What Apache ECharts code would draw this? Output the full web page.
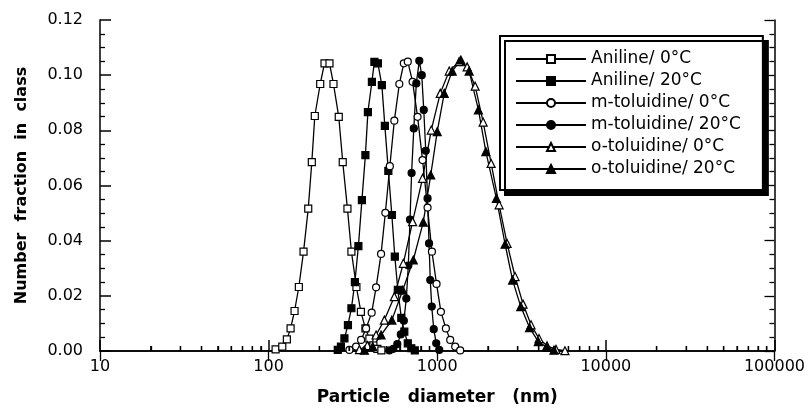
<!DOCTYPE html>
<html><head><meta charset="utf-8">
<script src="https://cdn.jsdelivr.net/npm/echarts@6/dist/echarts.min.js"></script>
<style>html,body{margin:0;padding:0;background:#fff}#c{width:808px;height:414px}</style>
</head><body><div id="c"></div>
<script>
const seriesNames = ['Aniline/ 0°C','Aniline/ 20°C','m-toluidine/ 0°C','m-toluidine/ 20°C','o-toluidine/ 0°C','o-toluidine/ 20°C'];

const aniline0X = [110.0,120.5,128.3,135.0,142.5,151.1,161.1,171.8,180.4,187.9,202.3,214.5,229.6,242.5,260.6,275.2,293.4,309.8,331.6,352.6,375.0,396.0,418.2,441.6,466.3];
const aniline0Y = [0.0006,0.0016,0.0042,0.0082,0.0145,0.0232,0.036,0.0516,0.0685,0.0852,0.0968,0.1043,0.1043,0.0968,0.0849,0.0685,0.0516,0.036,0.0232,0.0142,0.0082,0.0045,0.002,0.0008,0.0002];

const aniline20X = [257.1,268.5,281.6,295.4,309.8,324.9,340.8,357.5,375.0,388.0,409.8,424.0,444.6,469.5,489.1,513.0,538.1,560.4,583.8,612.4,637.9,669.0,701.8,736.1];
const aniline20Y = [0.0004,0.0016,0.0046,0.0094,0.0155,0.025,0.038,0.0547,0.071,0.0866,0.0976,0.1048,0.1043,0.0964,0.0816,0.0653,0.0493,0.0342,0.0222,0.012,0.007,0.0028,0.001,0.0002];

const mTol0X = [301.5,330.3,353.6,378.5,408.5,433.9,464.5,492.4,523.5,556.7,595.9,633.6,669.0,714.3,764.6,818.5,876.2,930.2,990.6,1051.7,1125.4,1194.0,1278.1,1368.1];
const mTol0Y = [0.0004,0.0016,0.004,0.0082,0.0139,0.0231,0.0352,0.0501,0.067,0.0835,0.0968,0.1043,0.1049,0.0976,0.0849,0.0692,0.052,0.036,0.0243,0.0142,0.0082,0.004,0.0016,0.0002];

const mTol20X = [520.0,549.1,579.8,608.1,633.6,655.6,673.7,689.6,704.7,726.2,751.4,782.8,809.6,832.0,855.0,876.2,894.3,909.3,928.0,953.6,986.5,1027.6];
const mTol20Y = [0.0002,0.0008,0.0025,0.006,0.011,0.019,0.031,0.0476,0.0645,0.0807,0.097,0.1052,0.1,0.0874,0.0726,0.0553,0.039,0.0257,0.0161,0.0079,0.0028,0.0004];

const oTol0X = [345.5,385.2,433.9,485.8,556.7,629.3,714.3,818.5,921.5,1041.8,1177.8,1349.6,1504.5,1678.6,1872.3,2087.7,2328.1,2595.9,2894.3,3228.6,3599.8,4014.2,4476.3,5060.0,5721.9];
const oTol0Y = [0.0005,0.002,0.0058,0.0112,0.0197,0.0318,0.0469,0.0626,0.0801,0.0934,0.1015,0.1049,0.103,0.096,0.083,0.068,0.053,0.039,0.027,0.017,0.0095,0.0045,0.0019,0.0006,0.0001];

const oTol20X = [369.8,414.4,464.5,538.1,625.1,721.1,826.4,915.2,1000.0,1100.0,1227.0,1380.9,1546.3,1755.2,1942.0,2243.5,2526.2,2797.4,3129.1,3526.5,3975.4,4476.3,4923.7];
const oTol20Y = [0.0003,0.0016,0.0058,0.0112,0.0221,0.033,0.0467,0.0638,0.0795,0.0934,0.1015,0.1055,0.1015,0.0874,0.0723,0.0553,0.0387,0.0257,0.0161,0.0085,0.0034,0.0013,0.0003];

const xMinorTicks = [20,30,40,50,60,70,80,90,200,300,400,500,600,700,800,900,2000,3000,4000,5000,6000,7000,8000,9000,20000,30000,40000,50000,60000,70000,80000,90000];
const minorTickHeight = 0.0018;

const FONT = 'DejaVu Sans';
const zip = (xs, ys) => xs.map((x, i) => [x, ys[i]]);

const markerDefs = [
  {sym: 'rect', size: 7, fill: '#fff'},
  {sym: 'rect', size: 7, fill: '#000'},
  {sym: 'circle', size: 7, fill: '#fff'},
  {sym: 'circle', size: 7, fill: '#000'},
  {sym: 'triangle', size: 8, fill: '#fff'},
  {sym: 'triangle', size: 8, fill: '#000'}
];
const dataSets = [
  zip(aniline0X, aniline0Y), zip(aniline20X, aniline20Y),
  zip(mTol0X, mTol0Y), zip(mTol20X, mTol20Y),
  zip(oTol0X, oTol0Y), zip(oTol20X, oTol20Y)
];

const minorTickLines = xMinorTicks.map(v => [{coord: [v, 0]}, {coord: [v, minorTickHeight]}]);

const lineSeries = seriesNames.map((name, i) => {
  const s = {
    name: name,
    type: 'line',
    data: dataSets[i],
    symbol: markerDefs[i].sym,
    symbolSize: markerDefs[i].size,
    showAllSymbol: true,
    lineStyle: {color: '#000', width: 1.3},
    itemStyle: {color: markerDefs[i].fill, borderColor: '#000', borderWidth: 1.2},
    emphasis: {disabled: true},
    animation: false,
    z: 3
  };
  if (i === 0) {
    s.markLine = {
      symbol: ['none', 'none'],
      label: {show: false},
      lineStyle: {color: '#000', width: 1.3, type: 'solid'},
      animation: false,
      data: minorTickLines
    };
  }
  return s;
});

const tickData = [];
xMinorTicks.forEach(v => { tickData.push([v, 0], [v, minorTickHeight], '-'); });

const minorTickSeries = {
  name: 'xMinorTicks',
  type: 'line',
  data: tickData,
  symbol: 'none',
  connectNulls: false,
  lineStyle: {color: '#000', width: 1.3},
  itemStyle: {color: '#000'},
  animation: false,
  z: 4
};

const chart = echarts.init(document.getElementById('c'), null, {renderer: 'canvas'});
chart.setOption({
  backgroundColor: '#fff',
  animation: false,
  grid: {left: 100, right: 32, top: 20, bottom: 63, containLabel: false},
  legend: {
    data: seriesNames,
    orient: 'vertical',
    left: 500, top: 36,
    itemWidth: 70, itemHeight: 10,
    itemGap: 4,
    padding: [14, 22, 12, 15],
    borderColor: '#000', borderWidth: 2,
    backgroundColor: '#fff',
    shadowColor: '#000', shadowBlur: 0, shadowOffsetX: 5, shadowOffsetY: 5,
    textStyle: {fontFamily: FONT, fontSize: 17, color: '#000', lineHeight: 18},
    selectedMode: false
  },
  xAxis: [{
    type: 'log', logBase: 10, min: 10, max: 100000,
    position: 'bottom',
    name: 'Particle   diameter   (nm)',
    nameLocation: 'middle', nameGap: 38,
    nameTextStyle: {fontFamily: FONT, fontSize: 17, fontWeight: 'bold', color: '#000'},
    axisLine: {lineStyle: {color: '#000', width: 1.5}},
    axisTick: {inside: true, length: 11, lineStyle: {color: '#000', width: 1.5}},
    axisLabel: {fontFamily: FONT, fontSize: 16, color: '#000', margin: 8,
      formatter: v => String(Math.round(v))},
    splitLine: {show: false},
    minorTick: {show: false}
  }, {
    type: 'log', logBase: 10, min: 10, max: 100000,
    position: 'top',
    axisLine: {lineStyle: {color: '#000', width: 1.5}},
    axisTick: {inside: true, length: 10, lineStyle: {color: '#000', width: 1.3}},
    axisLabel: {show: false},
    splitLine: {show: false}
  }],
  yAxis: [{
    type: 'value', min: 0, max: 0.12, interval: 0.02,
    position: 'left',
    name: 'Number  fraction  in  class',
    nameLocation: 'middle', nameGap: 70,
    nameTextStyle: {fontFamily: FONT, fontSize: 16, fontWeight: 'bold', color: '#000'},
    axisLine: {show: true, lineStyle: {color: '#000', width: 1.5}},
    axisTick: {show: true, inside: true, length: 11, lineStyle: {color: '#000', width: 1.5}},
    minorTick: {show: true, splitNumber: 4, length: 5, lineStyle: {color: '#000', width: 1.3}},
    axisLabel: {fontFamily: FONT, fontSize: 16, color: '#000', margin: 17,
      formatter: v => v.toFixed(2)},
    splitLine: {show: false}
  }, {
    type: 'value', min: 0, max: 0.12, interval: 0.02,
    position: 'right',
    axisLine: {show: true, lineStyle: {color: '#000', width: 1.5}},
    axisTick: {show: true, inside: true, length: 10, lineStyle: {color: '#000', width: 1.3}},
    minorTick: {show: true, splitNumber: 4, length: 5, lineStyle: {color: '#000', width: 1.3}},
    axisLabel: {show: false},
    splitLine: {show: false}
  }],
  series: lineSeries.concat([minorTickSeries])
});
</script></body></html>
